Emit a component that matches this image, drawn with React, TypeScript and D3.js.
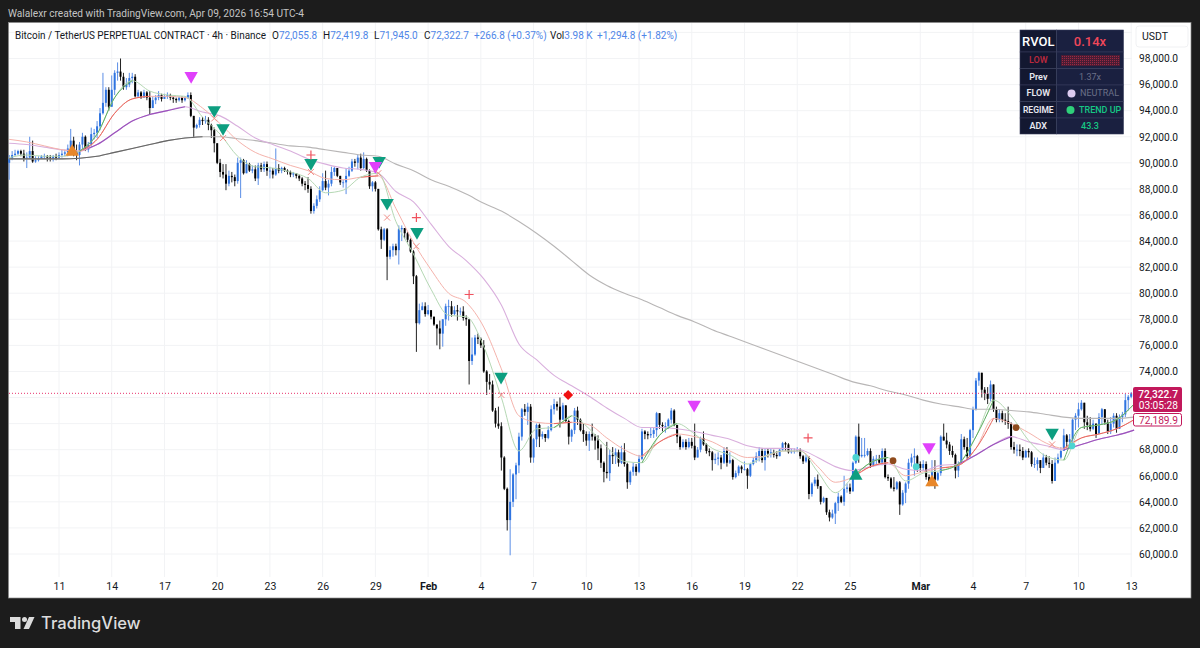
// @ts-nocheck
import { useEffect, useRef } from "react";
import * as d3 from "d3";

// BTCUSDT perp 4h, prices in thousands of USDT. One row per date-label interval.
const firstOpen = 90.0;
const closes = [
  90.3,90.6,90.7,90.9,90.7,90.3,90.4,90.9,90.1,90.2,90.3,90.5,90.5,90.4,90.3,90.5,90.4,
  90.6,90.7,90.8,91.1,91.7,90.9,90.6,91.4,92.0,91.0,91.4,92.2,92.3,92.8,93.8,94.6,95.6,94.3,
  95.6,96.9,97.0,96.6,95.8,96.0,96.5,96.6,95.1,95.4,95.0,95.4,95.0,94.2,94.8,95.0,95.2,94.9,
  95.1,95.2,95.0,94.9,94.8,95.0,94.8,95.0,95.2,93.6,92.7,92.9,93.3,93.2,93.3,92.9,92.5,91.5,
  90.0,89.3,89.1,88.4,89.0,88.9,88.6,90.0,90.2,89.2,89.9,89.4,89.5,88.8,89.8,89.5,89.9,89.4,
  89.4,89.1,89.6,89.4,89.6,89.4,89.3,89.1,89.2,89.0,88.8,88.4,88.3,88.0,86.3,86.7,87.2,87.9,
  88.6,88.1,88.4,89.3,89.6,89.0,88.5,88.5,89.0,89.4,90.1,90.0,90.4,89.6,90.3,89.4,88.2,88.5,
  88.0,84.9,84.1,84.9,82.8,83.3,83.6,83.3,84.9,85.0,84.6,84.1,83.2,81.3,77.7,78.7,79.0,78.4,
  78.7,78.2,77.6,77.3,76.9,78.0,79.0,79.0,78.4,78.7,78.6,78.6,78.1,78.0,74.8,75.3,76.6,76.5,
  76.0,74.0,73.2,73.0,71.0,70.0,69.8,67.4,65.0,62.6,64.0,66.1,66.8,69.0,71.1,70.9,71.3,67.4,
  68.8,69.9,69.0,69.2,68.9,69.5,71.1,71.5,71.3,70.3,71.4,70.2,69.0,69.5,71.0,70.3,69.5,69.2,
  68.7,69.2,69.0,68.7,68.1,67.0,66.3,66.2,67.6,67.5,67.8,67.0,67.8,66.9,65.5,66.3,66.7,66.3,
  67.3,69.4,69.2,69.1,69.2,69.5,70.8,69.9,69.8,69.8,70.3,71.0,69.9,69.0,68.2,68.6,68.2,68.6,
  68.3,67.4,68.0,68.9,68.4,67.9,67.8,67.2,67.3,67.4,67.0,67.9,67.0,67.2,65.9,66.2,66.7,66.5,
  66.5,66.0,66.9,67.2,67.5,67.9,67.2,67.9,67.7,67.8,67.6,67.5,68.0,68.5,68.4,67.8,67.9,67.9,
  68.0,67.5,67.1,67.4,64.6,65.4,65.7,65.2,64.0,64.3,63.2,62.8,63.1,63.9,64.4,64.0,65.0,65.1,
  64.8,67.0,69.0,67.5,67.6,67.6,67.9,66.8,67.3,67.3,67.0,67.9,65.9,65.8,65.1,65.0,65.5,63.8,64.7,65.4,67.0,67.4,67.5,66.9,
  66.6,66.9,65.9,65.5,66.3,65.7,66.2,69.0,68.7,68.4,67.9,67.6,66.4,66.9,68.8,68.2,67.5,69.5,
  71.1,73.3,73.9,72.6,72.3,71.9,73.0,71.1,70.3,70.8,70.3,70.2,70.0,68.2,68.0,68.0,67.9,67.4,
  67.9,67.8,66.9,66.9,67.2,66.6,67.4,67.0,66.9,65.6,67.0,67.4,67.9,69.1,68.6,68.8,70.3,70.6,
  71.1,71.6,70.1,69.9,69.6,70.0,69.2,70.5,71.1,70.1,69.4,70.0,70.6,69.6,70.5,70.7,71.8,72.06,
  72.32,
];
const highs = [
  90.6,90.9,91.0,91.0,91.0,91.0,90.8,92.0,91.7,90.5,90.5,90.6,90.7,90.6,90.6,90.6,90.7,
  90.8,91.0,91.0,91.4,92.6,92.0,91.4,91.6,92.3,92.1,91.6,92.7,92.6,93.2,94.2,96.9,95.8,95.8,
  96.7,97.1,97.7,98.0,96.9,96.5,96.9,96.9,96.8,95.6,95.5,95.6,95.5,95.5,95.1,95.2,95.5,95.3,
  95.3,95.4,95.3,95.1,95.0,95.1,95.1,95.1,95.4,95.4,93.6,93.0,93.5,93.5,93.6,93.5,93.0,92.7,
  91.1,90.3,89.9,89.9,89.4,89.3,89.1,90.4,90.4,90.3,90.2,90.0,89.8,89.8,90.0,90.0,90.1,90.1,
  89.7,89.6,91.1,89.9,89.7,89.7,89.5,89.4,89.3,89.2,89.1,88.9,88.6,88.9,88.2,86.9,87.5,88.2,
  89.2,89.4,88.7,89.7,89.7,89.6,89.0,88.7,89.6,89.7,90.3,90.3,90.6,90.7,90.8,90.4,89.5,88.6,
  88.6,87.9,85.1,85.0,85.0,83.6,83.8,83.8,85.2,85.2,85.0,84.7,84.2,83.3,81.4,79.2,79.3,79.3,
  79.1,78.7,78.2,77.6,77.9,78.0,79.2,79.5,79.4,79.0,79.1,78.9,79.0,78.3,78.0,76.6,76.8,76.9,
  76.6,76.4,74.1,73.8,73.3,71.2,71.3,70.1,67.5,65.1,66.5,66.2,67.0,69.3,71.2,71.5,71.6,71.5,
  68.9,70.0,70.0,69.4,69.2,69.8,71.4,71.9,71.7,72.0,71.6,71.4,70.3,69.6,71.2,71.3,70.4,70.0,
  69.4,69.4,70.0,69.2,69.1,68.4,67.1,68.6,68.0,68.2,68.1,68.0,68.3,68.5,67.0,66.4,67.0,66.9,
  67.6,69.6,69.5,69.4,69.7,69.7,70.9,70.8,70.1,70.1,70.4,71.2,71.1,69.9,69.1,68.8,68.8,68.9,
  68.9,70.0,68.2,69.0,69.4,68.5,68.1,67.9,67.7,67.8,67.6,68.2,68.2,67.8,67.3,66.4,66.8,66.8,
  67.1,66.6,67.0,67.4,67.8,68.2,68.1,68.1,68.1,68.1,68.0,67.9,68.1,68.6,68.6,68.5,68.1,68.1,
  68.2,68.1,67.6,67.6,67.5,65.5,65.9,66.1,65.2,64.4,64.3,63.4,63.4,64.0,64.7,64.5,66.0,65.4,
  65.4,67.1,69.1,70.0,68.9,68.9,68.1,68.1,67.5,67.6,67.6,68.1,68.1,66.1,65.9,65.9,65.6,65.6,64.9,65.5,67.3,67.7,68.1,67.6,
  67.1,67.2,67.1,66.1,67.2,67.2,66.3,69.1,70.0,69.3,68.6,68.3,67.7,67.1,69.2,69.0,68.9,69.6,
  71.3,73.5,74.0,73.6,72.8,72.8,73.3,72.7,71.3,71.1,71.0,70.8,71.3,70.1,68.6,68.4,68.4,68.2,
  68.0,68.1,67.9,67.4,67.4,67.2,67.7,67.6,67.5,67.2,67.4,67.7,68.2,69.6,69.2,69.2,70.4,70.8,
  71.6,71.8,71.6,70.6,70.5,70.3,70.0,70.8,71.2,71.1,70.3,70.5,70.8,70.8,70.7,70.9,72.3,72.2,
  72.42,
];
const lows = [
  88.7,90.2,90.5,90.6,90.5,90.1,89.6,90.3,90.0,90.0,90.1,90.3,90.3,90.1,90.1,90.1,90.2,
  90.3,90.4,90.5,90.5,90.8,90.5,90.2,89.8,91.0,90.9,90.8,91.2,91.8,91.9,92.5,93.7,94.3,94.0,
  94.4,95.2,96.3,96.3,95.6,95.6,95.8,96.1,95.0,95.0,94.9,95.0,94.8,93.7,94.2,94.5,94.8,94.7,
  94.9,94.9,94.8,94.6,94.6,94.7,94.6,94.7,94.9,93.5,91.9,92.6,92.7,92.9,93.0,92.5,91.9,90.8,
  89.9,88.9,88.8,87.9,88.2,88.5,88.2,88.4,87.3,89.1,89.2,89.3,89.2,88.6,88.3,89.3,89.3,89.0,
  88.8,88.8,89.0,89.2,89.2,89.3,89.1,88.9,88.9,88.8,88.6,88.2,87.9,87.7,86.1,86.1,86.5,87.0,
  87.8,87.9,87.5,88.2,89.0,88.9,88.3,88.1,87.6,88.9,89.3,89.7,89.5,89.4,89.5,89.3,88.0,87.8,
  87.8,84.8,83.4,84.0,81.0,82.6,82.8,82.9,82.2,84.0,84.2,83.9,83.1,80.7,75.5,77.6,78.7,78.2,
  78.3,78.0,77.5,76.0,75.7,75.9,77.5,77.9,78.2,78.3,77.9,78.3,77.9,77.5,73.0,74.5,75.2,76.1,
  75.8,73.9,72.2,72.6,70.9,69.7,69.6,66.4,64.9,61.8,59.9,63.6,64.2,66.2,68.7,70.6,69.9,67.0,
  67.0,68.2,68.2,68.8,68.6,68.8,69.4,70.7,71.0,69.7,70.3,70.1,68.4,68.6,69.2,69.9,69.4,68.6,
  68.3,67.9,68.7,68.0,67.2,66.6,65.5,65.8,65.6,66.9,66.9,66.7,66.9,66.7,65.0,65.3,66.0,66.0,
  66.2,67.2,68.8,68.8,68.9,68.9,69.0,69.6,69.4,69.3,69.6,70.0,69.8,68.5,68.0,68.1,68.0,68.1,
  68.1,67.2,67.6,67.8,68.3,67.7,67.5,66.4,66.9,66.8,66.5,66.9,66.7,66.9,65.7,65.8,66.0,66.2,
  66.4,65.0,65.9,66.8,67.0,67.1,67.0,66.4,67.4,67.4,67.4,67.3,67.6,67.9,67.9,67.7,67.7,67.7,
  67.8,67.3,66.9,67.0,64.2,64.4,65.2,65.0,63.8,63.9,63.0,62.5,62.7,62.3,63.3,63.9,63.7,64.7,
  64.6,64.8,66.9,67.0,67.4,67.4,67.5,66.6,66.7,66.9,66.9,66.8,65.8,65.6,65.0,64.8,64.9,63.0,63.7,63.9,65.0,66.7,66.0,66.3,
  66.3,66.4,65.7,65.2,65.4,65.0,65.6,66.0,68.7,68.1,67.6,67.4,65.8,65.9,66.9,68.0,67.3,67.4,
  68.9,71.0,72.9,72.0,71.8,71.5,71.7,70.9,70.1,70.1,70.1,69.9,69.6,68.0,67.7,67.5,67.5,67.2,
  67.4,67.4,66.7,66.6,66.4,66.2,66.8,66.8,66.6,65.4,65.6,66.9,67.3,67.9,68.1,68.1,68.6,69.5,
  69.7,71.0,69.6,69.5,69.4,69.5,68.9,69.2,69.9,69.9,69.2,69.2,69.7,69.3,69.9,70.1,70.5,71.0,
  71.945,
];

// moving averages, one reading per day from the first candle
const maGray = [
  90.3,90.3,90.3,90.3,90.35,90.5,90.8,91.1,91.4,91.7,91.9,92.0,92.0,91.85,91.7,91.5,
  91.3,91.2,91.0,90.8,90.6,90.5,89.9,89.4,88.7,88.2,87.6,86.9,86.3,85.5,84.6,83.6,
  82.5,81.4,80.6,80.0,79.5,78.9,78.3,77.8,77.2,76.7,76.2,75.7,75.2,74.7,74.2,73.7,
  73.2,72.9,72.5,72.2,71.8,71.5,71.3,71.1,71.1,71.0,70.9,70.7,70.5,70.4,70.4,70.4,70.5,
];
const maPurple = [
  91.5,91.4,91.2,91.0,90.9,91.4,92.3,93.2,93.7,94.0,94.3,93.9,93.6,92.8,91.9,91.4,
  90.9,90.3,89.9,89.6,89.5,89.2,87.8,87.0,85.3,83.6,82.5,81.1,79.1,76.1,74.9,73.7,
  72.9,72.1,71.2,70.4,69.7,69.7,69.6,69.4,69.1,68.8,68.3,68.1,68.1,68.0,67.4,66.7,
  66.4,66.7,66.9,66.5,66.4,66.8,66.9,67.6,68.4,69.0,68.6,68.3,68.0,68.4,68.8,69.1,69.5,
];
const maRed = [
  91.8,91.6,91.3,91.0,90.9,91.8,93.8,94.9,95.1,95.1,95.0,94.2,93.0,91.7,90.8,90.3,
  89.8,89.4,88.8,88.7,88.9,89.0,86.5,83.9,81.8,80.0,79.3,77.4,74.2,70.6,70.1,70.0,
  70.1,69.9,68.9,68.0,67.5,68.6,69.2,69.0,68.6,67.9,67.4,67.5,67.9,67.9,66.7,65.5,
  65.9,66.7,67.0,66.0,66.3,66.6,66.8,68.1,70.4,70.0,69.3,68.5,68.1,68.9,69.2,69.6,70.3,
];
const maGreen = [
  90.4,90.6,90.5,90.5,90.9,92.2,95.0,96.3,95.5,95.2,95.1,93.5,92.2,90.5,89.7,89.6,
  89.3,88.8,87.7,87.9,88.9,89.2,85.5,83.0,80.3,78.3,78.2,75.9,72.0,67.9,69.6,69.7,
  70.6,69.6,68.2,67.1,67.0,69.1,70.0,69.2,68.1,67.6,66.9,67.5,67.9,67.9,66.3,64.7,
  65.9,67.0,67.4,65.6,66.2,66.4,66.9,69.0,71.8,70.6,68.7,67.5,67.2,69.7,69.9,70.3,71.5,
];
// day ranges where each average is drawn in its saturated colour
const greenStrong = [[4, 7], [31, 32], [36, 38], [48, 50], [53, 56], [60, 64]];
const redStrong = [[4, 8], [20, 21], [31, 32], [36, 38], [48, 50], [53, 56], [60, 64]];
const purpleStrong = [[4, 10], [54, 57], [60, 64]];
const grayStrong = [[0, 11]];

// signal markers: [candle index, price]
const tealDown = [[70, 94.05], [73, 92.67], [103, 89.99], [126.3, 90.15], [129, 86.93], [139.2, 84.7], [167.9, 73.6], [356, 69.3]];
const pinkDown = [[62.1, 96.66], [125, 89.76], [233.8, 71.45], [314, 68.2]];
const redPlus = [[103, 90.6], [139, 85.8], [157, 79.9], [272.7, 68.9]];
const redDiamond = [[190.8, 72.2]];
const brownDot = [[301.7, 67.16], [343.7, 69.7]];
const cyanDot = [[289, 67.4], [309.6, 66.7], [362.8, 68.3]];
const tealUp = [[289, 66.0]];
const orangeUp = [[21.5, 90.84], [315, 65.5]];
const salmonCross = [[70, 93.4], [73, 91.9], [103, 89.3], [126, 89.2], [129, 85.8], [139, 83.6], [168, 72.2], [356, 68.4]];

const lastPrice = 72.3227;
const prevClose = 72.1899;
const priceTicks = [60, 62, 64, 66, 68, 70, 72, 74, 76, 78, 80, 82, 84, 86, 88, 90, 92, 94, 96, 98];
const coveredPriceLabels = [70, 72]; // sit behind the last price tags
const gridOnlyTicks = [100];
const timeTicks = [
  ["2026-01-11", "11"], ["2026-01-14", "14"], ["2026-01-17", "17"], ["2026-01-20", "20"], ["2026-01-23", "23"],
  ["2026-01-26", "26"], ["2026-01-29", "29"], ["2026-02-01", "Feb"], ["2026-02-04", "4"], ["2026-02-07", "7"],
  ["2026-02-10", "10"], ["2026-02-13", "13"], ["2026-02-16", "16"], ["2026-02-19", "19"], ["2026-02-22", "22"],
  ["2026-02-25", "25"], ["2026-03-01", "Mar"], ["2026-03-04", "4"], ["2026-03-07", "7"], ["2026-03-10", "10"], ["2026-03-13", "13"],
];

const FONT = "Roboto, sans-serif";
const HOUR = 3600 * 1000;
const firstCandle = Date.UTC(2026, 0, 8, 4);
const candleTime = (i) => new Date(firstCandle + i * 4 * HOUR);
const dayTime = (d) => new Date(firstCandle + d * 24 * HOUR);

const App = () => {
  const ref = useRef(null);

  useEffect(() => {
    document.body.style.margin = "0";
    document.body.style.background = "#1c1c1c";
    const svg = d3.select(ref.current);
    svg.selectAll("*").remove();

    const x = d3.scaleUtc().domain([new Date("2026-01-11"), new Date("2026-03-04")]).range([59, 973]);
    const y = d3.scaleLinear().domain([60, 98]).range([554, 58.5]);
    const paneRight = 1132;
    const paneBottom = 577;

    svg.append("rect").attr("width", 1200).attr("height", 648).attr("fill", "#1c1c1c");
    svg.append("rect").attr("x", 8.5).attr("y", 22.5).attr("width", 1182.5).attr("height", 575.5).attr("fill", "#fff").attr("stroke", "#8a8a8a").attr("stroke-width", 0.7);

    svg.append("text").attr("x", 8).attr("y", 17).attr("fill", "#c4c4c4").attr("font-family", FONT).attr("font-size", 10.5)
      .attr("textLength", 296).attr("lengthAdjust", "spacingAndGlyphs")
      .text("Walalexr created with TradingView.com, Apr 09, 2026 16:54 UTC-4");

    // grid
    const grid = svg.append("g").attr("stroke", "#f2f3f5").attr("stroke-width", 1);
    grid.selectAll("line.h").data([...priceTicks, ...gridOnlyTicks]).join("line").attr("class", "h")
      .attr("x1", 9).attr("x2", paneRight).attr("y1", (d) => y(d)).attr("y2", (d) => y(d));
    grid.selectAll("line.v").data(timeTicks).join("line").attr("class", "v")
      .attr("x1", (d) => x(new Date(d[0]))).attr("x2", (d) => x(new Date(d[0]))).attr("y1", 23).attr("y2", paneBottom);

    // candles
    const opens = closes.map((_, i) => (i === 0 ? firstOpen : closes[i - 1]));
    const candles = svg.append("g");
    candles.selectAll("line").data(closes).join("line")
      .attr("x1", (_, i) => x(candleTime(i))).attr("x2", (_, i) => x(candleTime(i)))
      .attr("y1", (d, i) => y(Math.max(highs[i], d, opens[i])))
      .attr("y2", (d, i) => y(Math.min(lows[i], d, opens[i])))
      .attr("stroke", (d, i) => (d >= opens[i] ? "#5b8ee6" : "#222"))
      .attr("stroke-width", 1);
    candles.selectAll("rect").data(closes).join("rect")
      .attr("x", (_, i) => x(candleTime(i)) - 1)
      .attr("width", 2)
      .attr("y", (d, i) => y(Math.max(d, opens[i])))
      .attr("height", (d, i) => Math.max(0.8, Math.abs(y(d) - y(opens[i]))))
      .attr("fill", (d, i) => (d >= opens[i] ? "#2f74e0" : "#000"));

    // moving averages: pale line first, saturated pieces on top
    const line = d3.line().x((d) => x(dayTime(d[0]))).y((d) => y(d[1])).curve(d3.curveMonotoneX);
    const drawAverage = (values, pale, strong, ranges, width) => {
      const pts = values.map((v, d) => [d, v]);
      svg.append("path").attr("d", line(pts)).attr("fill", "none").attr("stroke", pale).attr("stroke-width", width);
      ranges.forEach(([a, b]) => {
        svg.append("path").attr("d", line(pts.slice(a, b + 1))).attr("fill", "none").attr("stroke", strong).attr("stroke-width", width);
      });
    };
    drawAverage(maGray, "#b8b6b6", "#666", grayStrong, 1.1);
    drawAverage(maPurple, "#d9afdd", "#9a52bd", purpleStrong, 1.1);
    drawAverage(maRed, "#f5b3ac", "#e8645c", redStrong, 1);
    drawAverage(maGreen, "#b5d8b4", "#5fae62", greenStrong, 1);

    // price line
    svg.append("line").attr("x1", 9).attr("x2", paneRight).attr("y1", y(lastPrice)).attr("y2", y(lastPrice))
      .attr("stroke", "#e8336e").attr("stroke-width", 1).attr("stroke-dasharray", "1 2");

    // markers
    const px = (d) => x(candleTime(d[0]));
    const py = (d) => y(d[1]);
    const symbol = (type, size) => d3.symbol().type(type).size(size)();
    const marks = (data, path, fill, rotate = 0) =>
      svg.append("g").selectAll("path").data(data).join("path").attr("d", path).attr("fill", fill)
        .attr("transform", (d) => `translate(${px(d)},${py(d)}) rotate(${rotate})`);
    marks(tealDown, symbol(d3.symbolTriangle, 78), "#0d9e80", 180);
    marks(pinkDown, symbol(d3.symbolTriangle, 78), "#e040fb", 180);
    marks(tealUp, symbol(d3.symbolTriangle, 78), "#0d9e80");
    marks(orangeUp, symbol(d3.symbolTriangle, 78), "#e8872a");
    marks(redDiamond, symbol(d3.symbolSquare, 50), "#f01010", 45);
    marks(brownDot, symbol(d3.symbolCircle, 36), "#8f4a1c");
    marks(cyanDot, symbol(d3.symbolCircle, 36), "#4dd4d0");
    const stroked = (data, color) =>
      svg.append("g").selectAll("path").data(data).join("path").attr("fill", "none")
        .attr("stroke", color).attr("stroke-width", 1)
        .attr("transform", (d) => `translate(${px(d)},${py(d)})`);
    stroked(redPlus, "#f0525e").attr("d", "M-4.5,0H4.5M0,-4.5V4.5").attr("stroke-width", 1.2);
    stroked(salmonCross, "#f0908a").attr("d", "M-3,-3L3,3M-3,3L3,-3");

    // legend
    svg.append("text").attr("x", 15).attr("y", 39).attr("font-family", FONT).attr("font-size", 10.5).attr("fill", "#131722")
      .attr("textLength", 251).attr("lengthAdjust", "spacingAndGlyphs")
      .text("Bitcoin / TetherUS PERPETUAL CONTRACT · 4h · Binance");
    const blue = "#4f86e8";
    const legendParts = [["O", "72,055.8", 272], ["H", "72,419.8", 323], ["L", "71,945.0", 374], ["C", "72,322.7", 424], ["", "+266.8 (+0.37%)", 474], ["Vol", "3.98 K", 550], ["", "+1,294.8 (+1.82%)", 597]];
    legendParts.forEach(([k, v, at]) => {
      const t = svg.append("text").attr("x", at).attr("y", 39).attr("font-family", FONT).attr("font-size", 10);
      if (k) t.append("tspan").attr("fill", "#131722").text(k);
      t.append("tspan").attr("fill", blue).text(v);
    });

    // axes
    const yAxis = svg.append("g").attr("transform", `translate(${paneRight},0)`)
      .call(d3.axisRight(y).tickValues(priceTicks.filter((d) => !coveredPriceLabels.includes(d))).tickSize(0).tickPadding(7)
        .tickFormat((d) => d3.format(",.1f")(d * 1000)));
    yAxis.select(".domain").remove();
    yAxis.selectAll("text").attr("font-family", FONT).attr("font-size", 10.2).attr("fill", "#131722");

    const xAxis = svg.append("g").attr("transform", `translate(0,${paneBottom})`)
      .call(d3.axisBottom(x).tickValues(timeTicks.map((d) => new Date(d[0]))).tickSize(0).tickPadding(6)
        .tickFormat((_, i) => timeTicks[i][1]));
    xAxis.select(".domain").remove();
    xAxis.selectAll("text").attr("font-family", FONT).attr("font-size", 10.5).attr("fill", "#131722")
      .attr("font-weight", (_, i) => (timeTicks[i][1] === "Feb" || timeTicks[i][1] === "Mar" ? 700 : 400));

    // USDT box
    svg.append("rect").attr("x", 1136).attr("y", 26).attr("width", 52).attr("height", 21).attr("rx", 3).attr("fill", "#fff").attr("stroke", "#f0f1f3");
    svg.append("text").attr("x", 1142).attr("y", 40).attr("font-family", FONT).attr("font-size", 10.5).attr("fill", "#131722").text("USDT");

    // last price tags
    const pink = "#c2185b";
    svg.append("rect").attr("x", 1133).attr("y", 387).attr("width", 49).attr("height", 25).attr("rx", 2).attr("fill", pink);
    svg.append("text").attr("x", 1178).attr("y", 397.5).attr("text-anchor", "end").attr("font-family", FONT).attr("font-size", 10.2).attr("font-weight", 500).attr("fill", "#fff")
      .text(d3.format(",.1f")(lastPrice * 1000));
    svg.append("text").attr("x", 1178).attr("y", 409).attr("text-anchor", "end").attr("font-family", FONT).attr("font-size", 10.2).attr("fill", "#fff").text("03:05:28");
    svg.append("rect").attr("x", 1133.5).attr("y", 413.5).attr("width", 48).attr("height", 12.5).attr("rx", 2).attr("fill", "#fff").attr("stroke", pink);
    svg.append("text").attr("x", 1178).attr("y", 423.5).attr("text-anchor", "end").attr("font-family", FONT).attr("font-size", 10.2).attr("fill", pink)
      .text(d3.format(",.1f")(prevClose * 1000));

    // RVOL table
    const rowEdges = [30, 52, 68.6, 85, 101.6, 118, 134];
    const rowLabels = ["RVOL", "LOW", "Prev", "FLOW", "REGIME", "ADX"];
    const rowValues = ["0.14x", "", "1.37x", "NEUTRAL", "TREND UP", "43.3"];
    const labelColors = ["#fff", "#b8283c", "#e8e8f0", "#e8e8f0", "#e8e8f0", "#e8e8f0"];
    const valueColors = ["#f0475a", "", "#6b7088", "#6b7088", "#16c784", "#16c784"];
    const table = svg.append("g").attr("font-family", FONT);
    rowLabels.forEach((label, r) => {
      const top = rowEdges[r], h = rowEdges[r + 1] - top, mid = top + h / 2;
      table.append("rect").attr("x", 1020).attr("y", top).attr("width", 36.7).attr("height", h).attr("fill", "#131831").attr("stroke", "#383e5c").attr("stroke-width", 0.6);
      table.append("rect").attr("x", 1056.7).attr("y", top).attr("width", 66.8).attr("height", h).attr("fill", "#1a2040").attr("stroke", "#383e5c").attr("stroke-width", 0.6);
      table.append("text").attr("x", 1038.3).attr("y", mid + (r === 0 ? 4.5 : 3)).attr("text-anchor", "middle").attr("fill", labelColors[r])
        .attr("font-size", r === 0 ? 13 : r === 4 ? 8.5 : 9).attr("font-weight", r === 0 ? 500 : 600).text(label);
      if (rowValues[r]) {
        const dot = r === 3 || r === 4;
        table.append("text").attr("x", r === 3 ? 1080 : r === 4 ? 1079 : 1090).attr("y", mid + (r === 0 ? 4.5 : 3)).attr("text-anchor", dot ? "start" : "middle").attr("fill", valueColors[r])
          .attr("font-size", r === 0 ? 13 : 9).attr("font-weight", r === 0 || r === 4 || r === 5 ? 500 : 400).text(rowValues[r]);
      }
    });
    table.append("circle").attr("cx", 1071.5).attr("cy", 93.5).attr("r", 4).attr("fill", "#dccbf0");
    table.append("circle").attr("cx", 1070.5).attr("cy", 110).attr("r", 4).attr("fill", "#2fd07a");
    const defs = svg.append("defs");
    const pattern = defs.append("pattern").attr("id", "lowBar").attr("width", 2).attr("height", 2).attr("patternUnits", "userSpaceOnUse");
    pattern.append("rect").attr("width", 2).attr("height", 2).attr("fill", "#4a1c34");
    pattern.append("rect").attr("width", 1).attr("height", 1).attr("fill", "#9a2a42");
    table.append("rect").attr("x", 1061).attr("y", 55).attr("width", 59).attr("height", 11).attr("fill", "url(#lowBar)");

    // footer logo
    const logo = svg.append("g").attr("fill", "#dcdcdc");
    logo.append("path").attr("d", "M10 617H20.5V629H15V622H10Z");
    logo.append("circle").attr("cx", 24.5).attr("cy", 619.5).attr("r", 2.5);
    logo.append("path").attr("d", "M29 617H34.5L29 629H23.5Z");
    svg.append("text").attr("x", 41).attr("y", 629).attr("font-family", "Inter, sans-serif").attr("font-size", 16.6).attr("font-weight", 500).attr("fill", "#dcdcdc").text("TradingView");
  }, []);

  return <svg ref={ref} width={1200} height={648} style={{ display: "block", position: "absolute", left: 0, top: 0 }} />;
};

export default App;
